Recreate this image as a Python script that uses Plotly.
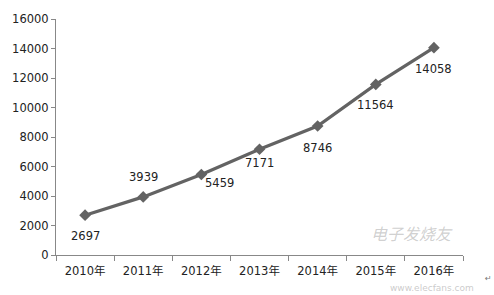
import plotly.graph_objects as go

years = ["2010年", "2011年", "2012年", "2013年", "2014年", "2015年", "2016年"]
values = [2697, 3939, 5459, 7171, 8746, 11564, 14058]
label_dx = [0, 0, 18, 0, 0, 0, 0]
label_dy = [-21, 20, -9, -14, -22, -21, -21]

fig = go.Figure()
fig.add_trace(go.Scatter(
    x=years, y=values, mode="lines+markers",
    line=dict(color="#636363", width=3.2),
    marker=dict(symbol="diamond", size=9, color="#636363"),
    hoverinfo="skip",
))

for x, v, dx, dy in zip(years, values, label_dx, label_dy):
    fig.add_annotation(x=x, y=v, text=str(v), showarrow=False,
                       xshift=dx, yshift=dy,
                       font=dict(family="DejaVu Sans, Noto Sans CJK SC", size=11.5, color="#222"))

# watermark
fig.add_annotation(xref="paper", yref="paper", x=0.98, y=0.035, text="<i>电子发烧友</i>",
                   showarrow=False, font=dict(family="Noto Sans CJK SC", size=16, color="rgba(150,150,150,0.45)"))
fig.add_annotation(xref="paper", yref="paper", x=1.03, y=-0.167, yanchor="bottom",
                   text="www.elecfans.com", borderpad=0,
                   showarrow=False, font=dict(family="DejaVu Sans", size=9, color="rgba(150,150,150,0.5)"))
fig.add_annotation(xref="paper", yref="paper", x=1.075, y=-0.125, text="↵",
                   showarrow=False, font=dict(family="DejaVu Sans", size=8, color="#777"))

fig.update_layout(
    width=494, height=295,
    margin=dict(l=51, r=31, t=16, b=40),
    paper_bgcolor="white", plot_bgcolor="white",
    showlegend=False,
    font=dict(family="DejaVu Sans, Noto Sans CJK SC", size=11, color="#222"),
)
fig.update_xaxes(type="category", tickson="boundaries", ticks="outside", ticklen=5,
                 tickcolor="#888", showline=True, linecolor="#888", linewidth=1,
                 showgrid=False, range=[-0.5, 6.5], ticklabelstandoff=5,
                 tickfont=dict(family="DejaVu Sans, Noto Sans CJK SC", size=11.5, color="#222"))
fig.update_yaxes(range=[0, 16000], dtick=2000, ticks="outside", ticklen=4,
                 tickcolor="#888", showline=True, linecolor="#888", linewidth=1,
                 showgrid=False, zeroline=False, tickformat="d",
                 tickfont=dict(family="DejaVu Sans", size=11.5, color="#222"))

fig.write_html("out.html")
